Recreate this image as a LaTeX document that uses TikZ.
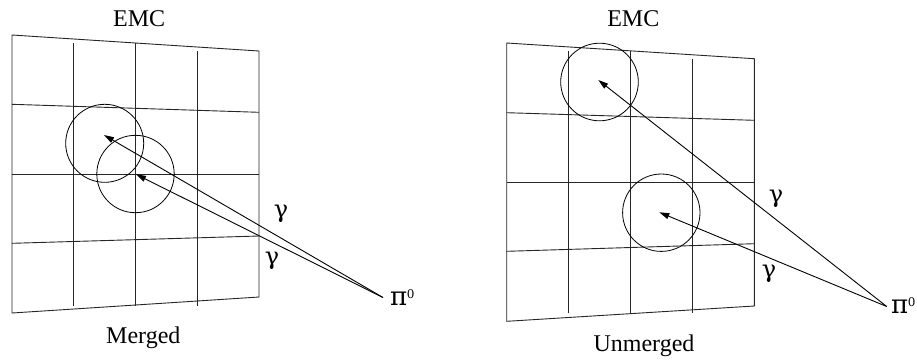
\documentclass[tikz,border=0pt]{standalone}
\usepackage{fontspec}
\setmainfont{Liberation Serif}
\newfontfamily\greekfont{DejaVu Serif}
\usetikzlibrary{arrows.meta}
\begin{document}
\begin{tikzpicture}[x=1pt,y=-1pt,
  grid/.style={line width=0.9pt,black!85},
  ring/.style={line width=0.8pt},
  ray/.style={line width=0.9pt,-{Triangle[length=10pt,width=6pt]}},
  lbl/.style={font=\fontsize{24}{28}\selectfont,anchor=base,inner sep=0pt},
  glbl/.style={font=\greekfont\fontsize{24}{28}\selectfont,inner sep=0pt},
  pilbl/.style={font=\greekfont\fontsize{26}{30}\selectfont,anchor=base west,inner sep=0pt}]
\useasboundingbox (0,0) rectangle (917,360);
% ---------- left panel ----------
\draw[grid] (12,35) -- (259,51) -- (259,297) -- (12,313) -- cycle;
\draw[grid] (73,43) -- (73,306);
\draw[grid] (135,43) -- (135,306);
\draw[grid] (197,51) -- (197,306);
\draw[grid] (12,104.3) -- (259,112.3);
\draw[grid] (12,174) -- (259,174);
\draw[grid] (12,243.3) -- (259,236);
\draw[ring] (104.7,143.3) circle (39);
\draw[ring] (135.5,174) circle (38.7);
\coordinate (pL) at (383,297.5);
\coordinate (tL1) at (104,135);
\coordinate (tL2) at (136,174.3);
\draw[ray] (pL) -- (tL1);
\draw[ray] (pL) -- (tL2);
\node[lbl] (emcL) at (139.2,26.7) {EMC};
\node[lbl] (mergedL) at (143.3,343.3) {Merged};
\node[glbl] (gL1) at (281,214) {γ};
\node[glbl] (gL2) at (272,261) {γ};
\node[pilbl] (piL) at (390,305) {π\kern-0.5pt\raisebox{7pt}{\fontsize{12}{14}\selectfont 0}};
% ---------- right panel ----------
\draw[grid] (506.7,43) -- (754.3,58.7) -- (754.3,306) -- (506.7,321.3) -- cycle;
\draw[grid] (568.7,50.7) -- (568.7,313.3);
\draw[grid] (630.7,50.7) -- (630.7,313.3);
\draw[grid] (692.3,58.7) -- (692.3,313.3);
\draw[grid] (506.7,112.7) -- (754.3,120.3);
\draw[grid] (506.7,182.3) -- (754.3,182.3);
\draw[grid] (506.7,251.3) -- (754.3,243.7);
\draw[ring] (599.5,82) circle (38.8);
\draw[ring] (661.3,212.7) circle (38.7);
\coordinate (pR) at (886.7,306.5);
\coordinate (tR1) at (598.3,80);
\coordinate (tR2) at (659.3,212.3);
\draw[ray] (pR) -- (tR1);
\draw[ray] (pR) -- (tR2);
\node[lbl] (emcR) at (633.3,26.7) {EMC};
\node[lbl] (unmergedR) at (644,351.7) {Unmerged};
\node[glbl] (gR1) at (776,199) {γ};
\node[glbl] (gR2) at (769,274) {γ};
\node[pilbl] (piR) at (891,313) {π\kern-0.5pt\raisebox{7pt}{\fontsize{12}{14}\selectfont 0}};
\end{tikzpicture}
\end{document}
